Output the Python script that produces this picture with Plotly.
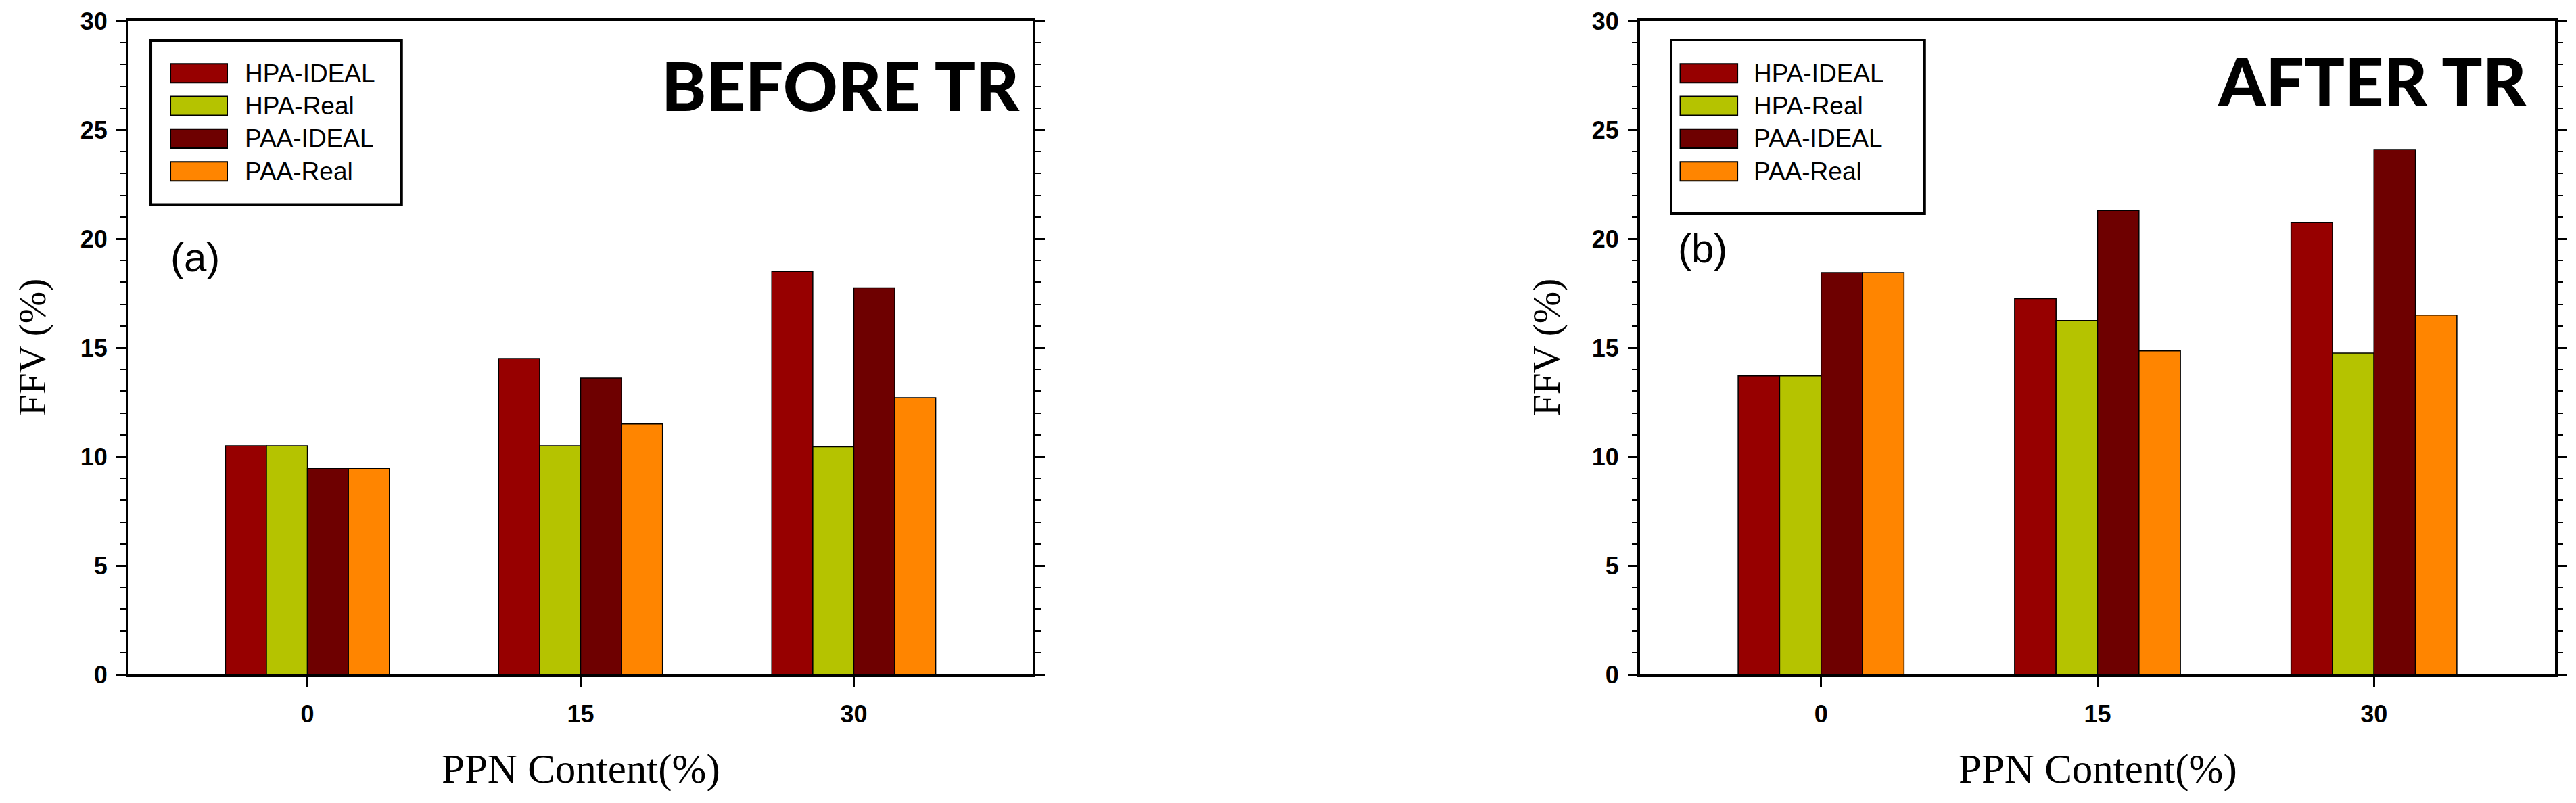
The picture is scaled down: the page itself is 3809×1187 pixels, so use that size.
import plotly.graph_objects as go

# ---------------- data ----------------
categories = ["0", "15", "30"]
series_names = ["HPA-IDEAL", "HPA-Real", "PAA-IDEAL", "PAA-Real"]
series_colors = ["#970000", "#b5c300", "#6e0000", "#ff8500"]

before_hpa_ideal = [10.5, 14.5, 18.5]
before_hpa_real = [10.5, 10.5, 10.45]
before_paa_ideal = [9.45, 13.6, 17.75]
before_paa_real = [9.45, 11.5, 12.7]

after_hpa_ideal = [13.7, 17.25, 20.75]
after_hpa_real = [13.7, 16.25, 14.75]
after_paa_ideal = [18.45, 21.3, 24.1]
after_paa_real = [18.45, 14.85, 16.5]

y_tick_values = [0, 5, 10, 15, 20, 25, 30]
panel_titles = ["BEFORE TR", "AFTER TR"]
panel_labels = ["(a)", "(b)"]
x_title = "PPN Content(%)"
y_title = "FFV (%)"

panels = [
    [before_hpa_ideal, before_hpa_real, before_paa_ideal, before_paa_real],
    [after_hpa_ideal, after_hpa_real, after_paa_ideal, after_paa_real],
]

# ---------------- layout geometry ----------------
W, H = 3809, 1187
OFF = 8  # page body margin


def px_x(x):
    return (x - OFF) / W


def px_y(y):
    return 1 - (y - OFF) / H


x_domains = [[px_x(190), px_x(1527)], [px_x(2425), px_x(3778)]]
y_domain = [px_y(997), px_y(31)]

fig = go.Figure()

tick_font = dict(family="Liberation Sans", size=36, color="black", weight="bold")

for p, series in enumerate(panels):
    xa = "x" if p == 0 else "x2"
    ya = "y" if p == 0 else "y2"
    for name, color, vals in zip(series_names, series_colors, series):
        fig.add_trace(go.Bar(
            x=categories, y=vals, name=name, xaxis=xa, yaxis=ya,
            marker=dict(color=color, line=dict(color="black", width=1.5)),
            showlegend=False,
        ))

axis_common_x = dict(
    type="category", range=[-0.655, 2.655], showline=True, linewidth=4,
    linecolor="black", mirror=True, ticks="outside", ticklen=15, tickwidth=3,
    tickcolor="black", showgrid=False, zeroline=False, tickfont=tick_font,
    ticklabelstandoff=9, automargin=False,
)
axis_common_y = dict(
    range=[0, 30], tickvals=y_tick_values, showline=True, linewidth=4,
    linecolor="black", mirror="ticks", ticks="outside", ticklen=14,
    tickwidth=3, tickcolor="black", showgrid=False, zeroline=False,
    tickfont=tick_font, ticklabelstandoff=6, automargin=False,
    minor=dict(dtick=1, ticks="outside", ticklen=8, tickwidth=2, tickcolor="black", showgrid=False),
)

fig.update_layout(
    width=W, height=H, margin=dict(l=0, r=0, t=0, b=0, autoexpand=False),
    paper_bgcolor="white", plot_bgcolor="white", showlegend=False,
    barmode="group", bargap=0.4, bargroupgap=0,
    xaxis=dict(domain=x_domains[0], anchor="y", **axis_common_x),
    yaxis=dict(domain=y_domain, anchor="x", **axis_common_y),
    xaxis2=dict(domain=x_domains[1], anchor="y2", **axis_common_x),
    yaxis2=dict(domain=y_domain, anchor="x2", **axis_common_y),
)

# legend boxes, titles, panel labels (drawn in axis-domain coordinates)
legend_geo = [
    dict(box=(0.0247, 0.719, 0.302, 0.970), sw=(0.0464, 0.1092), tx=0.127),
    dict(box=(0.034, 0.705, 0.311, 0.971), sw=(0.0440, 0.1065), tx=0.123),
]
row_y = [0.920, 0.870, 0.820, 0.770]
title_pos = [(0.987, 0.903), (0.971, 0.910)]
label_pos = [(0.045, 0.638), (0.040, 0.652)]

for p in range(2):
    xr = "x domain" if p == 0 else "x2 domain"
    yr = "y domain" if p == 0 else "y2 domain"
    g = legend_geo[p]
    x0, y0, x1, y1 = g["box"]
    fig.add_shape(type="rect", xref=xr, yref=yr, x0=x0, y0=y0, x1=x1, y1=y1,
                  line=dict(color="black", width=4), fillcolor="rgba(0,0,0,0)")
    for name, color, ry in zip(series_names, series_colors, row_y):
        fig.add_shape(type="rect", xref=xr, yref=yr, x0=g["sw"][0], x1=g["sw"][1],
                      y0=ry - 0.0145, y1=ry + 0.0145,
                      line=dict(color="black", width=2), fillcolor=color)
        fig.add_annotation(xref=xr, yref=yr, x=g["tx"], y=ry, text=name,
                           showarrow=False, xanchor="left", yanchor="middle",
                           font=dict(family="Liberation Sans", size=37, color="black"))
    tx, ty = title_pos[p]
    fig.add_annotation(xref=xr, yref=yr, x=tx, y=ty, text=panel_titles[p],
                       showarrow=False, xanchor="right", yanchor="middle",
                       font=dict(family="Lato", size=100, color="black", weight=900))
    lx, ly = label_pos[p]
    fig.add_annotation(xref=xr, yref=yr, x=lx, y=ly, text=panel_labels[p],
                       showarrow=False, xanchor="left", yanchor="middle",
                       font=dict(family="Liberation Sans", size=60, color="black"))

# axis titles
for p, ylab_x in enumerate([48, 2287]):
    cx = sum(x_domains[p]) / 2
    fig.add_annotation(xref="paper", yref="paper", x=cx, y=px_y(1137), text=x_title,
                       showarrow=False, xanchor="center", yanchor="middle",
                       font=dict(family="Liberation Serif", size=61, color="black"))
    fig.add_annotation(xref="paper", yref="paper", x=px_x(ylab_x), y=px_y(514), text=y_title,
                       showarrow=False, xanchor="center", yanchor="middle", textangle=-90,
                       font=dict(family="Liberation Serif", size=57, color="black"))

fig.write_html("out.html")
